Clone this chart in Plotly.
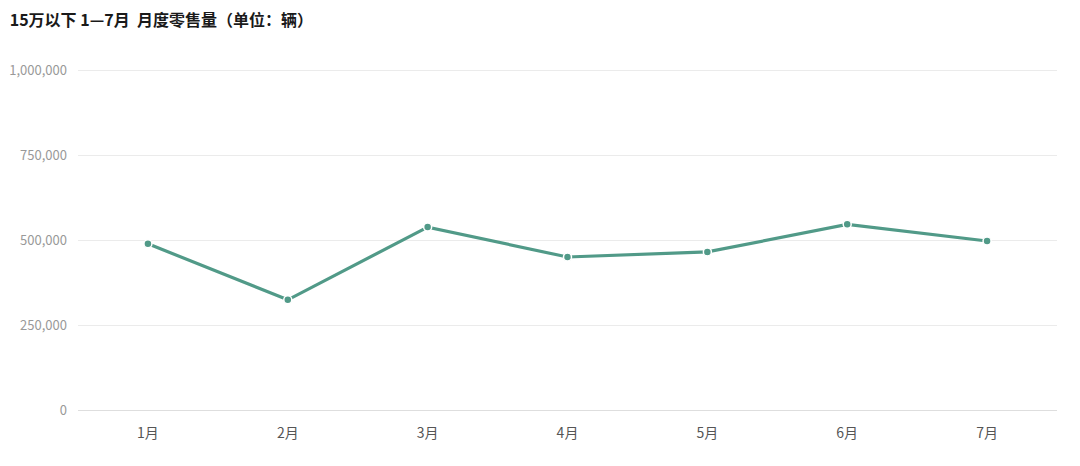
import plotly.graph_objects as go

months = ["1月", "2月", "3月", "4月", "5月", "6月", "7月"]
sales = [489000, 324000, 538000, 450000, 465000, 546000, 497000]
y_ticks = [0, 250000, 500000, 750000, 1000000]
y_tick_labels = ["0", "250,000", "500,000", "750,000", "1,000,000"]

fig = go.Figure()
fig.add_trace(go.Scatter(
    x=months, y=sales, mode="lines+markers",
    line=dict(color="#519a88", width=3.2),
    marker=dict(color="#519a88", size=8, line=dict(color="white", width=1.5)),
    hoverinfo="x+y",
))

fig.update_layout(
    width=1080, height=466,
    margin=dict(l=78, r=23, t=69, b=56),
    paper_bgcolor="white", plot_bgcolor="white",
    showlegend=False,
    font=dict(family="Noto Sans CJK SC, Noto Sans, sans-serif"),
    title=dict(
        text="15万以下 1—7月  月度零售量（单位：辆）",
        x=0.009, xanchor="left", y=0.957, yanchor="middle",
        font=dict(size=16, color="#1a1a1a", family="Noto Sans CJK SC", weight="bold"),
    ),
    xaxis=dict(
        type="category", range=[-0.5, 6.5], automargin=False,
        showgrid=False, showline=False, zeroline=False,
        ticks="", tickfont=dict(size=14, color="#555555"),
        ticklabelstandoff=13,
    ),
    yaxis=dict(
        range=[0, 1003000], tickvals=y_ticks, ticktext=y_tick_labels,
        automargin=False,
        showgrid=True, gridcolor="#ebebeb", gridwidth=1,
        zeroline=True, zerolinecolor="#dedede", zerolinewidth=1,
        showline=False, ticks="",
        tickfont=dict(size=13, color="#999999"),
        ticklabelstandoff=10,
    ),
)

fig.write_html("out.html", config={"displayModeBar": False},
               post_script="document.body.style.margin='0';")
